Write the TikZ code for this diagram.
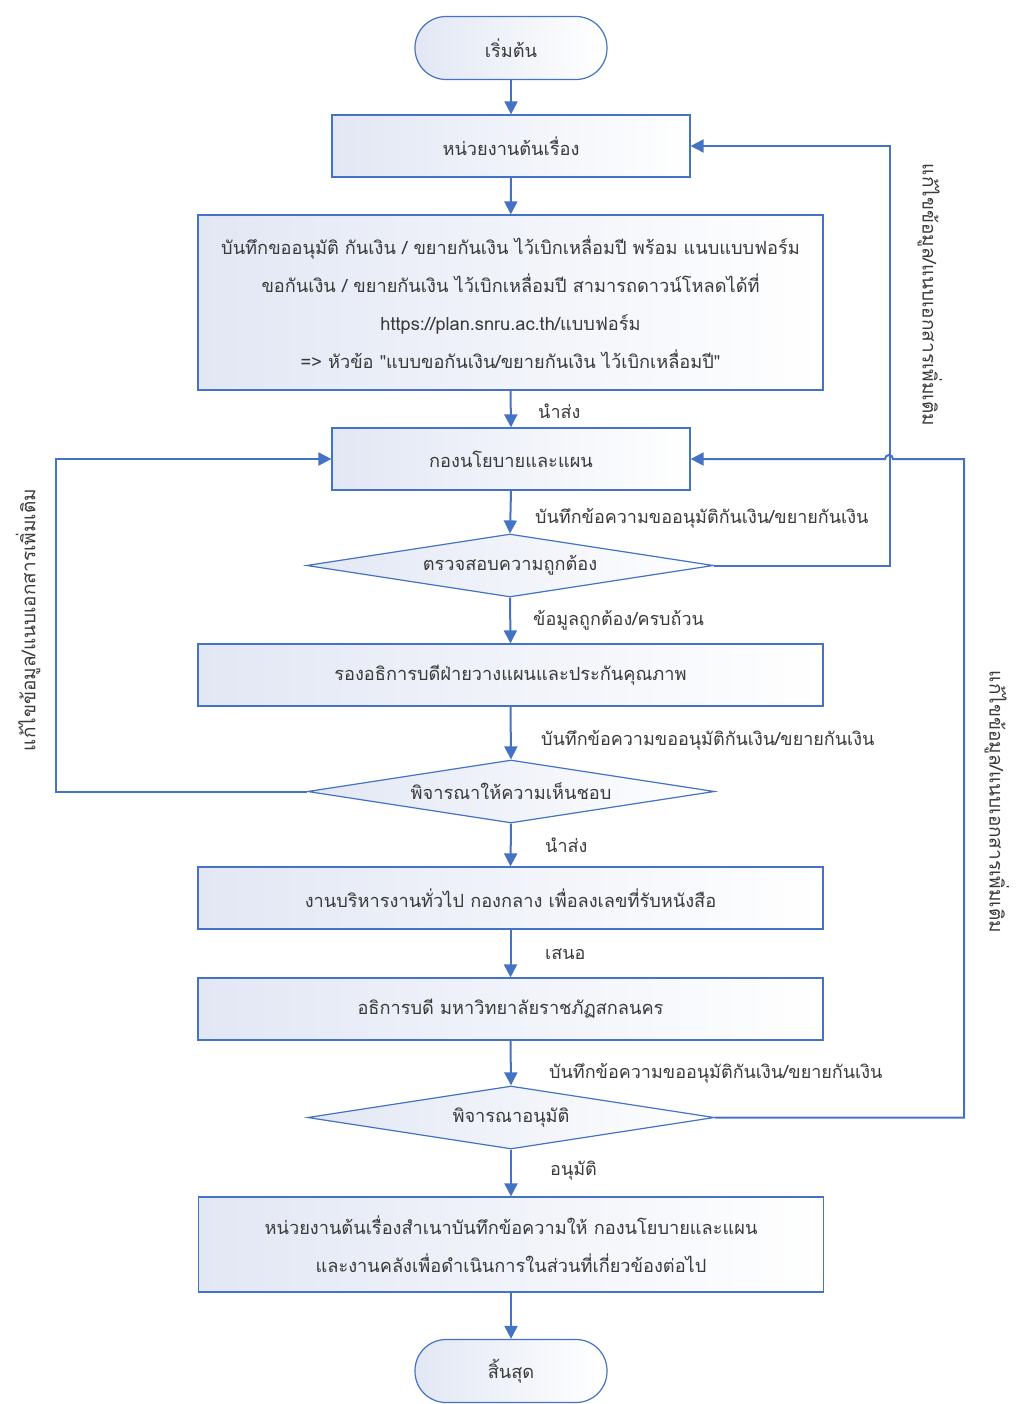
\documentclass[tikz,border=0pt]{standalone}
\usepackage{fontspec}
\setmainfont[Script=Thai]{Loma}
\usetikzlibrary{shapes.geometric,arrows.meta}
\definecolor{lineblue}{HTML}{4472C4}
\definecolor{boxfill}{HTML}{E2E7F4}
\definecolor{txtgray}{HTML}{3A3A3A}

\begin{document}
\begin{tikzpicture}[x=1pt,y=-1pt]
  \tikzset{
    procbox/.style = {draw=lineblue, line width=1.2pt, left color=boxfill, right color=white,
      text=txtgray, align=center, minimum width=625pt, minimum height=62pt,
      font=\fontsize{18.2}{38}\selectfont},
    smallbox/.style = {procbox, minimum width=358pt},
    terminal/.style = {procbox, rounded corners=31pt, minimum width=192pt, minimum height=63pt},
    decision/.style = {procbox, diamond, aspect=6.4, inner sep=0pt, minimum width=407pt, minimum height=63pt},
    flow/.style = {draw=lineblue, line width=2pt, -{Triangle[width=13pt,length=13pt]}},
    lbl/.style = {text=txtgray, anchor=west, inner sep=0pt, font=\fontsize{18}{20}\selectfont},
    sidelbl/.style = {text=txtgray, inner sep=0pt, font=\fontsize{19}{20}\selectfont}
  }
  \useasboundingbox (0,0) rectangle (1025,1404);

  % shapes
  \node[terminal] (start) at (511,48) {เริ่มต้น};
  \node[smallbox] (b1) at (511,146) {หน่วยงานต้นเรื่อง};
  \node[procbox, minimum height=175pt] (b2) at (510.5,302.5)
    {บันทึกขออนุมัติ กันเงิน / ขยายกันเงิน ไว้เบิกเหลื่อมปี พร้อม แนบแบบฟอร์ม\\
     ขอกันเงิน / ขยายกันเงิน ไว้เบิกเหลื่อมปี สามารถดาวน์โหลดได้ที่\\
     https://plan.snru.ac.th/แบบฟอร์ม\\
     => หัวข้อ \textquotedbl แบบขอกันเงิน/ขยายกันเงิน ไว้เบิกเหลื่อมปี\textquotedbl};
  \node[smallbox] (b3) at (511,459) {กองนโยบายและแผน};
  \node[decision] (d1) at (510,565.5) {ตรวจสอบความถูกต้อง};
  \node[procbox] (b4) at (510.5,675) {รองอธิการบดีฝ่ายวางแผนและประกันคุณภาพ};
  \node[decision] (d2) at (511,791.5) {พิจารณาให้ความเห็นชอบ};
  \node[procbox] (b5) at (510.5,898) {งานบริหารงานทั่วไป กองกลาง เพื่อลงเลขที่รับหนังสือ};
  \node[procbox] (b6) at (510.5,1009) {อธิการบดี มหาวิทยาลัยราชภัฏสกลนคร};
  \node[decision] (d3) at (511,1117.5) {พิจารณาอนุมัติ};
  \node[procbox, minimum height=95pt] (b7) at (511,1244.5)
    {หน่วยงานต้นเรื่องสำเนาบันทึกข้อความให้ กองนโยบายและแผน\\
     และงานคลังเพื่อดำเนินการในส่วนที่เกี่ยวข้องต่อไป};
  \node[terminal] (stop) at (511,1371) {สิ้นสุด};

  % main flow
  \draw[flow] (start) -- (b1);
  \draw[flow] (b1) -- (b2);
  \draw[flow] (b2.south) -- (b3.north);
  \draw[flow] (b3.south) -- (d1.north);
  \draw[flow] (d1.south) -- (b4.north);
  \draw[flow] (b4.south) -- (d2.north);
  \draw[flow] (d2.south) -- (b5.north);
  \draw[flow] (b5.south) -- (b6.north);
  \draw[flow] (b6.south) -- (d3.north);
  \draw[flow] (d3.south) -- (b7.north);
  \draw[flow] (b7.south) -- (stop.north);

  % labels on the flow
  \node[lbl] (l1) at (538,411) {นำส่ง};
  \node[lbl] (l2) at (535,518) {บันทึกข้อความขออนุมัติกันเงิน/ขยายกันเงิน};
  \node[lbl] (l3) at (533,620) {ข้อมูลถูกต้อง/ครบถ้วน};
  \node[lbl] (l4) at (541,740) {บันทึกข้อความขออนุมัติกันเงิน/ขยายกันเงิน};
  \node[lbl] (l5) at (545,845) {นำส่ง};
  \node[lbl] (l6) at (545,954) {เสนอ};
  \node[lbl] (l7) at (549,1073) {บันทึกข้อความขออนุมัติกันเงิน/ขยายกันเงิน};
  \node[lbl] (l8) at (550,1171) {อนุมัติ};

  % back loops
  \coordinate (hop) at (889,459);
  \draw[flow] (d1.east) -- ++(176,0) |- (b1.east);
  \draw[flow] (d2.west) -- ++(-251,0) |- (b3.west);
  \draw[flow] (d3.east) -- ++(249,0) |- ([xshift=4pt]hop)
    arc[start angle=0, end angle=180, radius=4pt] -- (b3.east);
  \node[sidelbl, rotate=-90] (s1) at (930,295) {แก้ไขข้อมูล/แนบเอกสารเพิ่มเติม};
  \node[sidelbl, rotate=90] (s2) at (28,620) {แก้ไขข้อมูล/แนบเอกสารเพิ่มเติม};
  \node[sidelbl, rotate=-90] (s3) at (997,802) {แก้ไขข้อมูล/แนบเอกสารเพิ่มเติม};
\end{tikzpicture}
\end{document}
